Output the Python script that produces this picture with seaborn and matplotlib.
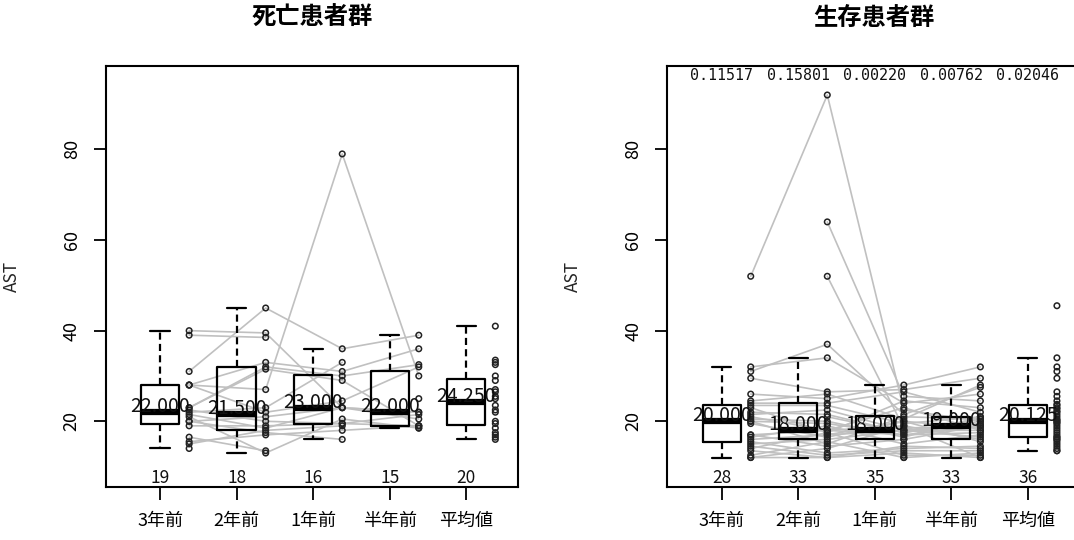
import numpy as np
import pandas as pd
import matplotlib
matplotlib.use("Agg")
import matplotlib.pyplot as plt
import matplotlib.transforms as mtransforms
import seaborn as sns

nan = np.nan

time_labels = ["3年前", "2年前", "1年前", "半年前", "平均値"]
panel_titles = ["死亡患者群", "生存患者群"]

# Death group: AST per patient (same index = same patient) at each time point
death_3y = [31, 40, 39, 28, 28, 28, 23, 23, 22.5, 22, 21.5, 21, 20, 20, 19, 16.5, 15.5, 15, 14]
death_2y = [45, 39.5, 38.5, 27, 22, 33, 32, 31.5, 20, 23, 18.5, 13, 17.5, 21, 19, 13.5, 17, 18, nan]
death_1y = [36, 23, nan, 79, 24.5, 31, 30, 29, 19.5, 33, 23, 20.5, 16, 23, 19.5, nan, 18, 19, nan]
death_half = [39, 22, 25, 30, 32, 36, 32.5, 19, 21.5, nan, 20.5, 18.5, nan, 22, 19, 18.5, 19, nan, nan]
death_mean = [16, 16.5, 17, 17.5, 18.5, 19.5, 20, 22, 22.5, 23.5, 25, 25.5, 26.5, 27, 29, 30,
              32.5, 33, 33.5, 41]

# Survival group
surv_3y = [52, nan, nan, 31, 32, 29.5, 26, 24.5, 24, 23.5, 23, 22, 21.5, 21, 20.5, 20, 20, 19.5,
           17, 17, 16.5, 16, 15.5, 15, 14.5, 14, 13.5, 12.5, 12, 12, nan, nan, nan, nan, nan]
surv_2y = [92, 64, 52, 37, 34, 26.5, 25, 26, 24, 23.5, 17.5, 21.5, 22.5, 18, 20, 15, 19.5, 16.5,
           18, 14.5, 19, 17, 13, 16, 12.5, 17.5, 12, 15.5, 12, 14, 17, 18, 21, nan, nan]
surv_1y = [22.5, 25.5, 18.5, 21.5, 24, 27, 28, 20.5, 26.5, 19.5, 24.5, 17.5, 18, 23, 16.5, 21, 17,
           20, 19, 16, 15, 20, 14, 18, 13.5, 12.5, 14.5, 12, 13, 19, 18, 17, 17.5, 16, 12]
surv_half = [20, 24.5, 19, 27.5, 26, 29.5, 32, 28, 22, 21, 23, 20.5, 19.5, 18, 21, 20.5, 17.5,
             18.5, 16, 19, 17, 15.5, 14.5, 16.5, 13.5, 12.5, 14, 13, 12, 12, 18, 19, 20, nan, nan]
surv_mean = [13.5, 13.5, 14, 14.5, 15, 15.5, 16, 16, 16.5, 16.5, 17, 17.5, 18, 18.5, 19, 19.5,
             19.75, 20, 20.25, 20.5, 21, 21.5, 22, 22.25, 22.75, 23, 23.5, 23.75, 24.5, 25.5,
             26.5, 29.5, 31, 32, 34, 45.5]

# p-values printed above each time point of the survival panel
surv_pvalues = ["0.11517", "0.15801", "0.00220", "0.00762", "0.02046"]

sns.set_theme(style="white")
plt.rcParams["font.family"] = ["Noto Sans CJK JP", "DejaVu Sans"]
plt.rcParams["axes.unicode_minus"] = False

STRIP = 0.38          # horizontal offset of the raw points from each box
W, H = 1074, 540

fig = plt.figure(figsize=(W / 100, H / 100), dpi=100)
ax_l = fig.add_axes([105.7 / W, (H - 487) / H, 412.6 / W, 421 / H])
ax_r = fig.add_axes([667.3 / W, (H - 487) / H, 412.6 / W, 421 / H])


def draw_panel(ax, series, means, title, pvalues=None):
    cols = [np.asarray(s, dtype=float) for s in series] + [np.asarray(means, dtype=float)]
    long = pd.DataFrame({
        "時期": np.repeat(time_labels, [len(c) for c in cols]),
        "AST": np.concatenate(cols),
    }).dropna()

    sns.boxplot(data=long, x="時期", y="AST", order=time_labels, ax=ax,
                color="black", fill=False, width=0.5, showfliers=False,
                linewidth=1.6,
                whiskerprops={"linestyle": (0, (3.2, 1.9))},
                medianprops={"linewidth": 4.5},
                zorder=2)

    # patient trajectories across the four time points
    traj = np.column_stack(cols[:4])
    xs = np.arange(4) + STRIP
    for row in traj:
        ax.plot(xs, row, color="#c0c0c0", lw=1.2, zorder=1)

    pos = {t: i + STRIP for i, t in enumerate(time_labels)}
    pts = long.assign(x=long["時期"].map(pos))
    sns.scatterplot(data=pts, x="x", y="AST", ax=ax, marker="o", s=16,
                    color="black", facecolor="none", edgecolor="#222222",
                    linewidth=1.1, zorder=3, legend=False)

    bottom = mtransforms.blended_transform_factory(ax.transData, ax.transAxes)
    for i, c in enumerate(cols):
        med = np.nanmedian(c)
        ax.text(i, med, f"{med:.3f}", ha="center", va="baseline",
                fontsize=14, color="#111111", zorder=4)
        ax.text(i, 0.022, f"{np.count_nonzero(~np.isnan(c))}", ha="center",
                va="center", fontsize=12.5, color="#111111", transform=bottom)
        if pvalues is not None:
            ax.text(i, 0.977, pvalues[i], ha="center", va="center",
                    fontsize=10.8, color="#111111", transform=bottom,
                    family=["DejaVu Sans Mono"])

    ax.set_xlim(-0.71, 4.68)
    ax.set_ylim(5.5, 98.4)
    ax.set_xticks(range(5))
    ax.set_xticklabels(time_labels)
    ax.set_yticks([20, 40, 60, 80])
    ax.set_xlabel("")
    ax.set_ylabel("AST", fontsize=12.5)
    ax.yaxis.set_label_coords(-0.206, 0.5)
    ax.tick_params(axis="both", which="major", bottom=True, left=True,
                   direction="out", length=9, width=1.3, color="black",
                   labelsize=13, labelcolor="black", pad=9)
    ax.tick_params(axis="y", labelrotation=90)
    for lbl in ax.get_yticklabels():
        lbl.set_va("center")
    for sp in ax.spines.values():
        sp.set_color("black")
        sp.set_linewidth(1.5)
    ax.text(0.5, 1.114, title, transform=ax.transAxes, ha="center", va="center",
            fontsize=17.5, fontweight="bold", color="black")


draw_panel(ax_l, [death_3y, death_2y, death_1y, death_half], death_mean, panel_titles[0])
draw_panel(ax_r, [surv_3y, surv_2y, surv_1y, surv_half], surv_mean, panel_titles[1],
           surv_pvalues)

fig.savefig("out.png", dpi=100, facecolor="white")
